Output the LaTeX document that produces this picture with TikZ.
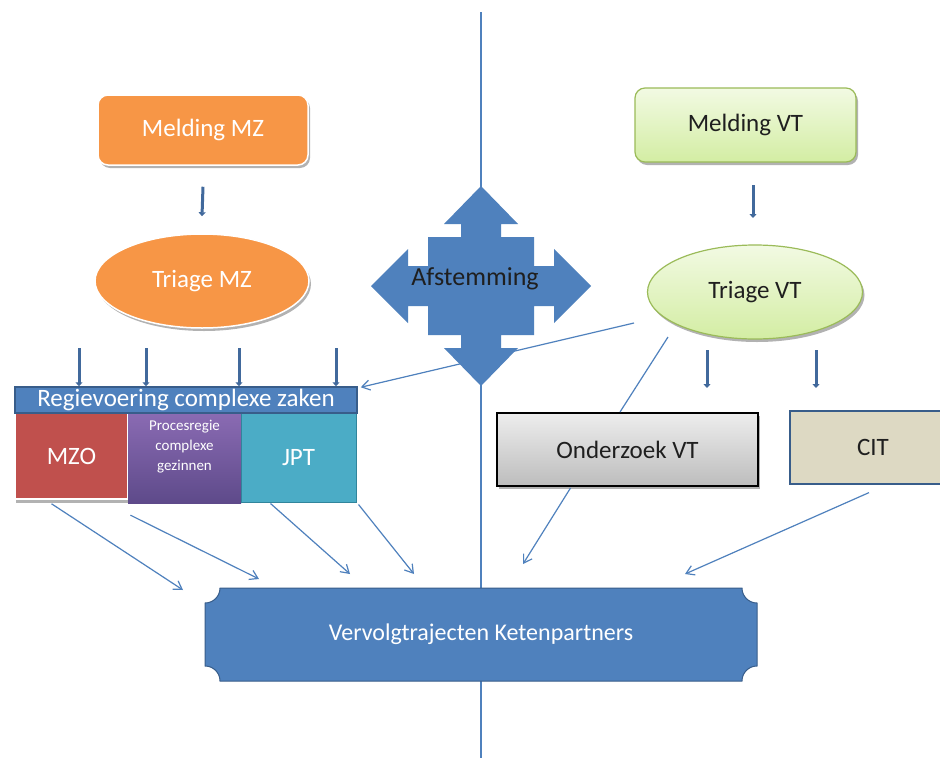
\documentclass[tikz,border=0pt]{standalone}
\usepackage{fontspec}
\setmainfont{Carlito}
\usetikzlibrary{arrows.meta,shapes.geometric,shadows,calc}
\definecolor{obl}{HTML}{4F81BD}
\definecolor{obldk}{HTML}{385D8A}
\definecolor{fatc}{HTML}{41699C}
\definecolor{orng}{HTML}{F79646}
\definecolor{mzored}{HTML}{C0504D}
\definecolor{purtop}{HTML}{8A6BB3}
\definecolor{purbot}{HTML}{5E4A8A}
\definecolor{jptc}{HTML}{4BACC6}
\definecolor{jptdk}{HTML}{31859C}
\definecolor{grtop}{HTML}{F2FAE3}
\definecolor{grbot}{HTML}{D3EDA3}
\definecolor{grdk}{HTML}{9BBB59}
\definecolor{citc}{HTML}{DDD9C3}
\definecolor{txtdk}{HTML}{1F1F1F}
\newcommand\bigtxt{\fontsize{25}{30}\selectfont}
\tikzset{
  shd/.style={drop shadow={shadow xshift=2pt,shadow yshift=-3pt,opacity=0.3,fill=black}},
  orangebox/.style={shape=rectangle,rounded corners=10pt,fill=orng,draw=white,line width=1.5pt,text=white,font=\bigtxt,inner sep=0pt,shd},
  orangeell/.style={shape=ellipse,fill=orng,draw=white,line width=1.5pt,text=white,font=\bigtxt,inner sep=0pt,shd},
  greenbox/.style={shape=rectangle,rounded corners=10pt,top color=grtop,bottom color=grbot,draw=grdk,line width=1.2pt,text=txtdk,font=\bigtxt,inner sep=0pt,shd},
  greenell/.style={shape=ellipse,top color=grtop,bottom color=grbot,draw=grdk,line width=1.2pt,text=txtdk,font=\bigtxt,inner sep=0pt,shd},
  fat/.style={draw=fatc,line width=3pt,-{Triangle[length=4pt,width=7pt]}},
  thinarr/.style={draw=obl,line width=1.2pt,-{Straight Barb[length=8pt,width=10pt]}},
  thinline/.style={draw=obl,line width=1.2pt},
}
\begin{document}
\begin{tikzpicture}[x=1pt,y=-1pt]
\useasboundingbox (0,0) rectangle (940,758);
\clip (0,0) rectangle (940,758);
\fill[white] (0,0) rectangle (940,758);
% central vertical line
\coordinate (vtop) at (481,12);
\coordinate (vbot) at (481,758);
\draw[draw=obl,line width=1.5pt] (vtop) -- (vbot);

% left side
\node[orangebox,minimum width=210pt,minimum height=70pt] (melMZ) at (203,130) {Melding MZ};
\node[orangeell,minimum width=214pt,minimum height=94pt] (triMZ) at (202,281) {Triage MZ};
\draw[fat] ([yshift=-21pt]melMZ.south) -- ([yshift=17pt]triMZ.north);

% right side
\node[greenbox,minimum width=221pt,minimum height=74pt] (melVT) at (745.5,125) {Melding VT};
\node[greenell,minimum width=215pt,minimum height=94pt] (triVT) at (755,292) {Triage VT};
\coordinate (mvt1) at (753,185);
\coordinate (mvt2) at (753,218);
\draw[fat] (mvt1) -- (mvt2);

% Afstemming quad arrow
\fill[obl] (481,186) -- (518,224) -- (501,224) -- (501,237) -- (534,237) -- (534,266)
  -- (554,266) -- (554,249) -- (591,286) -- (554,323) -- (554,306) -- (534,306)
  -- (534,335) -- (501,335) -- (501,348) -- (518,348) -- (481,386) -- (444,348)
  -- (461,348) -- (461,335) -- (428,335) -- (428,306) -- (408,306) -- (408,323)
  -- (371,286) -- (408,249) -- (408,266) -- (428,266) -- (428,237) -- (461,237)
  -- (461,224) -- (444,224) -- cycle;
\node[text=txtdk,font=\fontsize{26}{30}\selectfont,inner sep=0pt] (afst) at (475,279) {Afstemming};

% Regievoering block
\node[shape=rectangle,fill=white,minimum width=115pt,minimum height=88pt,shd] (mzoshadow) at (71.5,456) {};
\node[shape=rectangle,fill=mzored,draw=white,line width=1.5pt,minimum width=113pt,minimum height=86pt,text=white,font=\bigtxt,inner sep=0pt] (mzo) at (71.5,456) {MZO};
\node[shape=rectangle,top color=purtop,bottom color=purbot,minimum width=113pt,minimum height=90pt,text=white,font=\fontsize{15}{20}\selectfont,align=center,inner sep=0pt] (proc) at (184.5,458) {Procesregie\\complexe\\gezinnen\\[6pt]};
\node[shape=rectangle,fill=jptc,draw=jptdk,line width=1pt,minimum width=115pt,minimum height=89pt,text=white,font=\bigtxt,inner sep=0pt] (jpt) at (298.5,457.5) {JPT};
\node[shape=rectangle,fill=obl,draw=obldk,line width=1.5pt,minimum width=342pt,minimum height=26pt,text=white,font=\bigtxt,inner sep=0pt] (regie) at (186,400) {Regievoering complexe zaken};

\foreach \i/\xx in {1/79,2/146,3/239,4/336}{
  \coordinate (s\i) at (\xx,348);
  \draw[fat] (s\i) -- (s\i |- regie.north);
}

% VT boxes
\node[shape=rectangle,top color=white!93!black,bottom color=white!74!black,draw=black,line width=2pt,minimum width=261pt,minimum height=73pt,text=txtdk,font=\bigtxt,inner sep=0pt,shd] (ond) at (627.5,449.5) {Onderzoek VT};
\node[shape=rectangle,fill=citc,draw=obldk,line width=1.2pt,minimum width=166pt,minimum height=73pt,text=txtdk,font=\bigtxt,inner sep=0pt] (cit) at (873,447.5) {CIT};

\foreach \i/\xx in {1/707,2/816}{
  \coordinate (t\i) at (\xx,350);
  \draw[fat] (t\i) -- (\xx,388);
}

% connectors from Triage VT
\coordinate (tv1) at (634,323);
\draw[thinarr] (tv1) -- ([xshift=3pt,yshift=-1pt]regie.north east);
\coordinate (tv2) at (668,337);
\draw[thinline] (tv2) -- (ond.north -| 620,0);

% Vervolgtrajecten plaque
\fill[obl,draw=obldk,line width=1pt] (220,588) -- (742,588) .. controls (742,596.3) and (748.7,603) .. (757,603)
  -- (757,666) .. controls (748.7,666) and (742,672.7) .. (742,681)
  -- (220,681) .. controls (220,672.7) and (213.3,666) .. (205,666)
  -- (205,603) .. controls (213.3,603) and (220,596.3) .. (220,588) -- cycle;
\node[text=white,font=\fontsize{24}{30}\selectfont,inner sep=0pt] (verv) at (481,634) {Vervolgtrajecten Ketenpartners};

% arrows to Vervolg
\coordinate (e1) at (183,590);
\coordinate (e2) at (259,579);
\coordinate (e3) at (350,574);
\coordinate (e4) at (414,574);
\coordinate (e5) at (523,564);
\coordinate (e6) at (685,574);
\draw[thinarr] ([xshift=-20pt,yshift=-4pt]mzo.south) -- (e1);
\draw[thinarr] ([xshift=-54pt,yshift=-12pt]proc.south) -- (e2);
\draw[thinarr] ([xshift=-28pt,yshift=-1pt]jpt.south) -- (e3);
\draw[thinarr] ([xshift=2pt,yshift=-2pt]jpt.south east) -- (e4);
\draw[thinarr] ([xshift=-57pt,yshift=-1pt]ond.south) -- (e5);
\draw[thinarr] ([xshift=-4pt,yshift=-8pt]cit.south) -- (e6);
\end{tikzpicture}
\end{document}
